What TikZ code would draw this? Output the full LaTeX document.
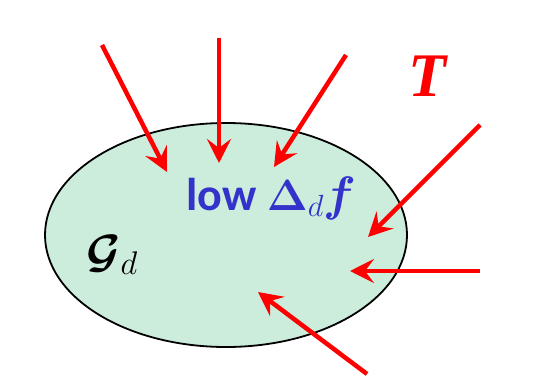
\documentclass[tikz,border=0pt]{standalone}
\usepackage{fix-cm}
\usepackage{amsmath}
\usepackage{bm}
\usepackage{fontspec}
\usepackage{xcolor}
\usepackage{tikz}
\usetikzlibrary{arrows.meta,shapes.geometric}
\newfontfamily\lowfont{Carlito}
\newfontfamily\tfont{Liberation Serif}
\definecolor{rgfill}{RGB}{204,236,220}
\definecolor{rgblue}{RGB}{51,51,204}
\tikzset{
  rgregion/.style={ellipse, draw=black, line width=1.8pt, fill=rgfill,
    minimum width=362pt, minimum height=224pt, inner sep=0pt},
  rgray/.style={draw=red, line width=4.5pt, line cap=butt,
    -{Stealth[length=24pt, width=24pt, inset=9pt]}},
  rglow/.style={text=rgblue, font=\lowfont\bfseries\fontsize{46}{54}\selectfont, inner sep=0pt},
  rgname/.style={font=\fontsize{36}{42}\selectfont, inner sep=0pt},
  rgop/.style={text=red, font=\tfont\bfseries\itshape\fontsize{62}{70}\selectfont, inner sep=0pt},
}

\begin{document}
\begin{tikzpicture}[x=1pt,y=-1pt]
\useasboundingbox (0,0) rectangle (540,385);
\node[rgregion] (gd) at (226,235) {};
% labels
\node[rglow, anchor=base west] (low) at (186,210) {low \scalebox{0.95}{$\bm{\Delta}_{d}$}\scalebox{1.05}{$\bm{f}$}};
\node[rgname, anchor=base west] (gname) at (86,267) {\scalebox{1.3}{$\bm{\mathcal{G}}_{d}$}};
\node[rgop, anchor=base] (op) at (427,96) {T};
% ray ends
\coordinate (s1) at (102,45);  \coordinate (e1) at (167,172);
\coordinate (s2) at (219,38);  \coordinate (e2) at (219,163);
\coordinate (s3) at (346,55);  \coordinate (e3) at (274,167);
\coordinate (s4) at (480,125); \coordinate (e4) at (368,237);
\coordinate (s5) at (480,271); \coordinate (e5) at (350,271);
\coordinate (s6) at (367,374); \coordinate (e6) at (258,292);
\foreach \i in {1,...,6}
  \draw[rgray] (s\i) -- (e\i);
\end{tikzpicture}
\end{document}
